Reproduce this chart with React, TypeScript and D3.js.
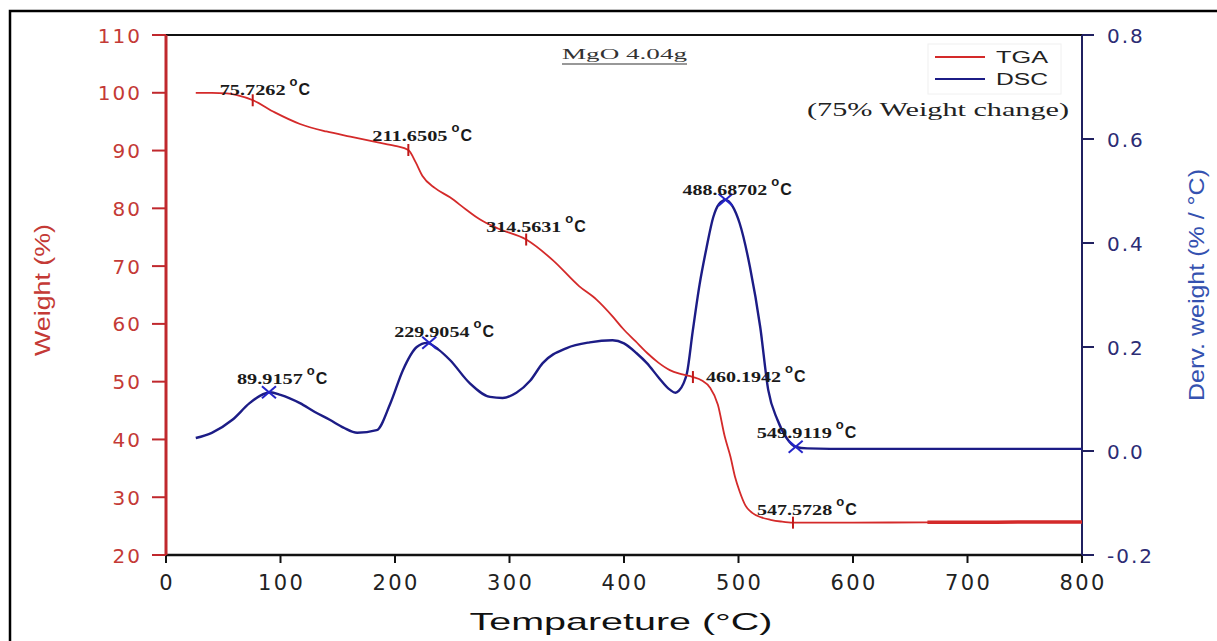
import React from 'react';
import * as d3 from 'd3';

// ---------- data ----------
const tgaTemp = [26, 40, 53, 62, 76, 95, 117, 140, 161, 185, 200, 211.65, 218, 224, 235, 248, 262, 274, 290, 314.56, 338, 361, 376, 390, 399, 410, 420, 430, 440, 450, 460.19, 468, 475, 482, 488, 493, 497, 501, 506, 512, 520, 528, 537, 547.57, 560, 600, 665, 700, 750, 800];
const tgaWeight = [100, 100, 99.9, 99.6, 98.7, 96.6, 94.6, 93.3, 92.4, 91.4, 90.8, 90.1, 88, 85.6, 83.5, 81.9, 79.8, 78.1, 76.5, 74.6, 71, 66.5, 64.2, 61.3, 59.2, 57, 55, 53.3, 52, 51.3, 50.8, 50.2, 49, 46, 40.5, 37, 33.5, 31, 28.6, 27.3, 26.5, 26.1, 25.8, 25.6, 25.6, 25.6, 25.65, 25.65, 25.7, 25.7];

const dscTemp = [26, 40, 58, 73, 82, 91, 100, 117, 130, 143, 155, 167, 184, 196, 207, 219, 228, 238, 248, 265, 283, 294, 306, 318, 329, 350, 370, 390, 400, 411, 420, 430, 440, 445, 448, 452, 455, 460, 466, 472, 478, 483, 488.7, 495, 501, 510, 519, 526, 534, 542, 550, 560, 600, 700, 800];
const dscDeriv = [0.025, 0.035, 0.06, 0.092, 0.106, 0.113, 0.108, 0.092, 0.075, 0.06, 0.045, 0.035, 0.04, 0.092, 0.156, 0.2, 0.208, 0.195, 0.175, 0.131, 0.104, 0.102, 0.112, 0.135, 0.169, 0.198, 0.209, 0.213, 0.207, 0.188, 0.169, 0.142, 0.118, 0.112, 0.116, 0.13, 0.15, 0.23, 0.32, 0.39, 0.45, 0.475, 0.483, 0.47, 0.438, 0.354, 0.238, 0.117, 0.06, 0.025, 0.008, 0.005, 0.004, 0.004, 0.004];

const tgaMarkTemp = [75.7262, 211.6505, 314.5631, 460.1942, 547.5728];
const tgaMarkWeight = [98.7, 90.1, 74.6, 50.8, 25.6];
const tgaMarkLabel = ['75.7262', '211.6505', '314.5631', '460.1942', '547.5728'];

const dscMarkTemp = [89.9157, 229.9054, 488.68702, 549.9119];
const dscMarkDeriv = [0.113, 0.208, 0.483, 0.008];
const dscMarkLabel = ['89.9157', '229.9054', '488.68702', '549.9119'];

const tempTicks = [0, 100, 200, 300, 400, 500, 600, 700, 800];
const weightTicks = [20, 30, 40, 50, 60, 70, 80, 90, 100, 110];
const dervTicks = [-0.2, 0.0, 0.2, 0.4, 0.6, 0.8];

const seriesNames = ['TGA', 'DSC'];
const titleText = 'MgO 4.04g';
const noteText = '(75% Weight change)';

// label offsets (layout, px relative to marker)
const tgaLabelOffset = [[-33, -5], [-36, -9], [-40, -8], [13, 5], [-36, -8]];
const dscLabelOffset = [[-32, -8], [-35, -6], [-43, -5], [-39, -9]];

// ---------- layout ----------
const W = 1217;
const H = 641;
const X0 = 166, X1 = 1082, Y0 = 555, Y1 = 35;

const RED = '#d42a2a';
const RED_AXIS = '#c0282d';
const RED_TEXT = '#c43a36';
const NAVY = '#1c1c86';
const NAVY_AXIS = '#202060';
const NAVY_TEXT = '#2c2c74';
const BLUE_TITLE = '#3552b0';

const SANS = '"Liberation Sans", Arial, sans-serif';
const TICKF = '"DejaVu Sans", sans-serif';
const SERIF = '"Liberation Serif", "Times New Roman", serif';

function Label({ x, y, text }: { x: number; y: number; text: string }) {
  const len = text.length * 9.4;
  return (
    <g>
      <text x={x} y={y} fontFamily={SERIF} fontWeight="bold" fontSize={15} fill="#1a1a1a" textLength={len} lengthAdjust="spacingAndGlyphs">{text}</text>
      <text x={x + len + 4} y={y - 9} fontFamily={SANS} fontWeight="bold" fontSize={13} fill="#1a1a1a">o</text>
      <text x={x + len + 13} y={y} fontFamily={SANS} fontWeight="bold" fontSize={16} fill="#1a1a1a">C</text>
    </g>
  );
}

export default function App() {
  const x = d3.scaleLinear().domain([0, 800]).range([X0, X1]);
  const yL = d3.scaleLinear().domain([20, 110]).range([Y0, Y1]);
  const yR = d3.scaleLinear().domain([-0.2, 0.8]).range([Y0, Y1]);

  const tga = tgaTemp.map((t, i) => [t, tgaWeight[i]] as [number, number]);
  const dsc = dscTemp.map((t, i) => [t, dscDeriv[i]] as [number, number]);

  const lineL = d3.line<[number, number]>().x(d => x(d[0])).y(d => yL(d[1])).curve(d3.curveMonotoneX);
  const lineR = d3.line<[number, number]>().x(d => x(d[0])).y(d => yR(d[1])).curve(d3.curveMonotoneX);

  const fmt = (v: number) => v.toFixed(1);

  return (
    <svg width={W} height={H} style={{ position: 'absolute', left: 0, top: 0, display: 'block', background: '#fff' }}>
      <rect x={0} y={0} width={W} height={H} fill="#fff" />
      {/* outer frame */}
      <path d={`M10,${H + 2} V11 H${W + 2}`} fill="none" stroke="#000" strokeWidth={2.5} />

      {/* plot frame */}
      <line x1={X0} x2={X1} y1={Y1} y2={Y1} stroke="#111" strokeWidth={2} />
      <line x1={X0} x2={X1} y1={Y0} y2={Y0} stroke="#111" strokeWidth={2.5} />

      {/* legend box (faint) */}
      <rect x={928} y={44} width={133} height={50} fill="none" stroke="#f0f0f0" strokeWidth={1} />

      {/* x ticks */}
      {tempTicks.map(t => (
        <g key={'xt' + t}>
          <line x1={x(t)} x2={x(t)} y1={Y0} y2={Y0 + 8} stroke="#111" strokeWidth={2} />
          <text x={x(t) + 1.2} y={590} textAnchor="middle" fontFamily={TICKF} fontSize={21} letterSpacing={2.5} fill="#222">{t}</text>
        </g>
      ))}

      {/* left axis */}
      {weightTicks.map(v => (
        <g key={'yl' + v}>
          <line x1={X0 - 14} x2={X0} y1={yL(v)} y2={yL(v)} stroke={RED_AXIS} strokeWidth={2} />
          <text x={142} y={yL(v) + 7.5} textAnchor="end" fontFamily={TICKF} fontSize={20} letterSpacing={2} fill={RED_TEXT}>{v}</text>
        </g>
      ))}
      <line x1={X0} x2={X0} y1={Y1} y2={Y0} stroke={RED_AXIS} strokeWidth={3} />

      {/* right axis */}
      {dervTicks.map(v => (
        <g key={'yr' + v}>
          <line x1={X1} x2={X1 + 12} y1={yR(v)} y2={yR(v)} stroke={NAVY_AXIS} strokeWidth={2} />
          <text x={1107} y={yR(v) + 7.5} textAnchor="start" fontFamily={TICKF} fontSize={20} letterSpacing={2} fill={NAVY_TEXT}>{fmt(v)}</text>
        </g>
      ))}
      <line x1={X1} x2={X1} y1={Y1} y2={Y0} stroke={NAVY_AXIS} strokeWidth={2} />

      {/* axis titles */}
      <text transform="translate(50,290) rotate(-90)" textAnchor="middle" fontFamily={SANS} fontSize={22} fill={RED_TEXT} textLength={132} lengthAdjust="spacingAndGlyphs">Weight (%)</text>
      <text transform="translate(1204,285) rotate(-90)" textAnchor="middle" fontFamily={SANS} fontSize={22} fill={BLUE_TITLE} textLength={232} lengthAdjust="spacingAndGlyphs">Derv. weight (% / °C)</text>
      <text x={621} y={630} textAnchor="middle" fontFamily={SANS} fontSize={24} fill="#111" textLength={303} lengthAdjust="spacingAndGlyphs">Tempareture (°C)</text>

      {/* curves */}
      <path d={lineR(dsc) || ''} fill="none" stroke={NAVY} strokeWidth={2.4} />
      <path d={lineL(tga) || ''} fill="none" stroke={RED} strokeWidth={1.8} />
      <path d={lineL(tga.filter(d => d[0] >= 665)) || ''} fill="none" stroke={RED} strokeWidth={3.5} />

      {/* TGA markers */}
      {tgaMarkTemp.map((t, i) => (
        <line key={'tm' + i} x1={x(t)} x2={x(t)} y1={yL(tgaMarkWeight[i]) - 6} y2={yL(tgaMarkWeight[i]) + 6} stroke="#c01818" strokeWidth={2} />
      ))}
      {/* DSC markers */}
      {dscMarkTemp.map((t, i) => {
        const cx = x(t), cy = yR(dscMarkDeriv[i]);
        return (
          <g key={'dm' + i} stroke="#2424c8" strokeWidth={2}>
            <line x1={cx - 7} x2={cx + 7} y1={cy - 6} y2={cy + 6} />
            <line x1={cx - 7} x2={cx + 7} y1={cy + 6} y2={cy - 6} />
          </g>
        );
      })}

      {/* labels */}
      {tgaMarkTemp.map((t, i) => (
        <Label key={'tl' + i} x={x(t) + tgaLabelOffset[i][0]} y={yL(tgaMarkWeight[i]) + tgaLabelOffset[i][1]} text={tgaMarkLabel[i]} />
      ))}
      {dscMarkTemp.map((t, i) => (
        <Label key={'dl' + i} x={x(t) + dscLabelOffset[i][0]} y={yR(dscMarkDeriv[i]) + dscLabelOffset[i][1]} text={dscMarkLabel[i]} />
      ))}

      {/* title */}
      <text x={562} y={59} fontFamily={SERIF} fontSize={15} fill="#333" textLength={125} lengthAdjust="spacingAndGlyphs">{titleText}</text>
      <line x1={562} x2={687} y1={64} y2={64} stroke="#333" strokeWidth={1.2} />

      {/* legend */}
      <line x1={935} x2={985} y1={57} y2={57} stroke={RED} strokeWidth={2} />
      <text x={996} y={63} fontFamily={SANS} fontSize={16} fill="#222" textLength={52} lengthAdjust="spacingAndGlyphs">{seriesNames[0]}</text>
      <line x1={935} x2={985} y1={79} y2={79} stroke={NAVY} strokeWidth={2} />
      <text x={996} y={85} fontFamily={SANS} fontSize={16} fill="#222" textLength={52} lengthAdjust="spacingAndGlyphs">{seriesNames[1]}</text>

      {/* note */}
      <text x={807} y={116} fontFamily={SERIF} fontSize={18} fill="#222" textLength={262} lengthAdjust="spacingAndGlyphs">{noteText}</text>
    </svg>
  );
}
